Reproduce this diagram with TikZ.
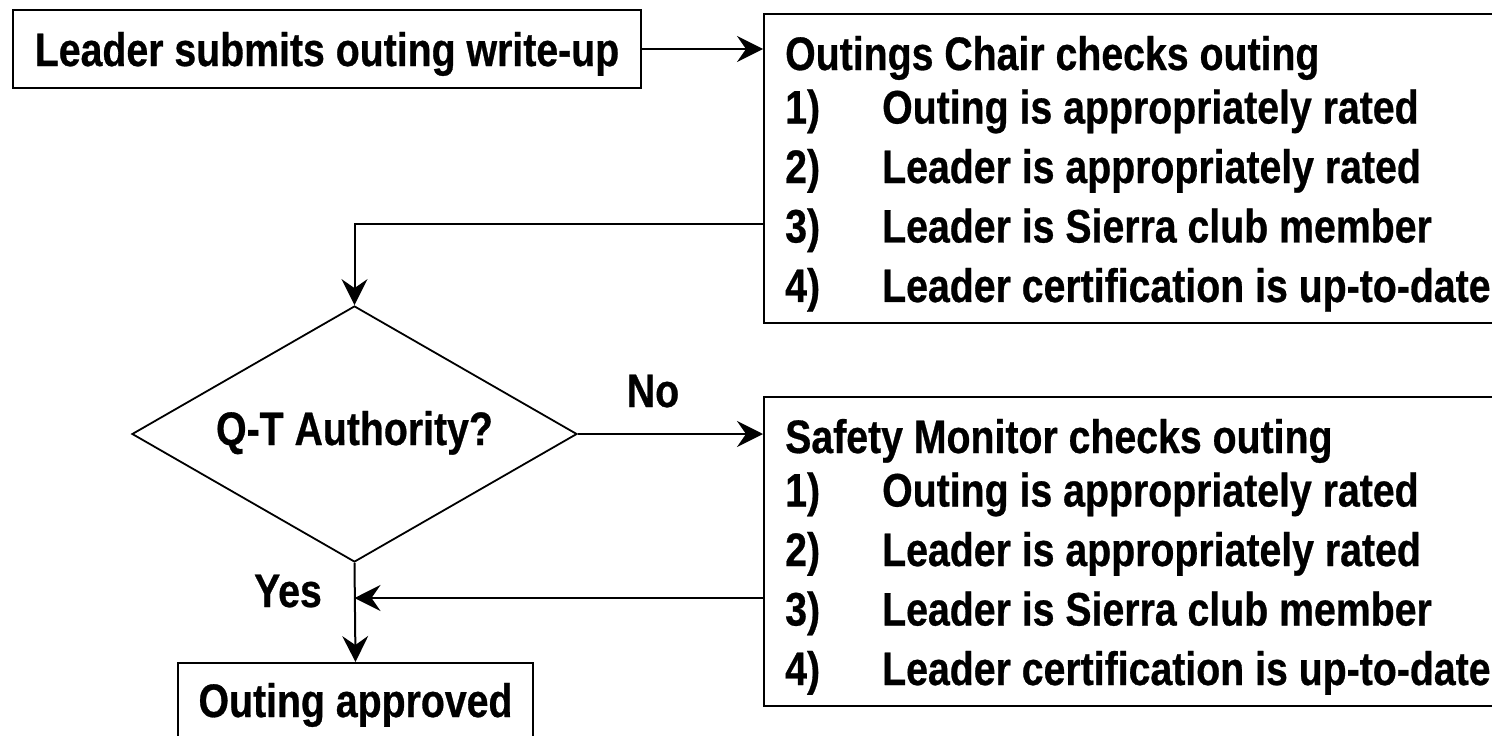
\documentclass[tikz,border=0pt]{standalone}
\usepackage{fontspec}
\setmainfont[FakeStretch=0.835,FakeBold=0.6]{Liberation Sans}
\usetikzlibrary{shapes.geometric,arrows.meta}
\begin{document}
\begin{tikzpicture}[x=1pt,y=-1pt,
  every node/.style={font=\fontsize{47}{59.5}\selectfont\bfseries},
  box/.style={draw,line width=2pt,inner sep=0pt},
  arr/.style={line width=2pt,-{Stealth[length=26pt,width=26pt,inset=9pt]}},
  lbl/.style={text height=34pt,text depth=0pt,inner sep=0pt}]
\clip (0,0) rectangle (1492,736);
% boxes
\node[box,lbl,minimum width=628pt,minimum height=78pt] (leader) at (327,49) {Leader submits outing write-up};
\node[box,anchor=north west,minimum width=800pt,minimum height=309pt] (chair) at (763,13) {};
\node[anchor=base west,inner sep=0pt] (chairtext) at (785,70) {\begin{tabular}[t]{@{}l@{}}
Outings Chair checks outing\\[-6pt]
\makebox[97pt][l]{1)}Outing is appropriately rated\\
\makebox[97pt][l]{2)}Leader is appropriately rated\\
\makebox[97pt][l]{3)}Leader is Sierra club member\\
\makebox[97pt][l]{4)}Leader certification is up-to-date
\end{tabular}};
\node[box,anchor=north west,minimum width=800pt,minimum height=309pt] (safety) at (763,396) {};
\node[anchor=base west,inner sep=0pt] (safetytext) at (785,453) {\begin{tabular}[t]{@{}l@{}}
Safety Monitor checks outing\\[-6pt]
\makebox[97pt][l]{1)}Outing is appropriately rated\\
\makebox[97pt][l]{2)}Leader is appropriately rated\\
\makebox[97pt][l]{3)}Leader is Sierra club member\\
\makebox[97pt][l]{4)}Leader certification is up-to-date
\end{tabular}};
\node[draw,diamond,line width=1.8pt,minimum width=445pt,minimum height=256pt,aspect=1.74,inner sep=0pt,text height=34pt,text depth=12pt] (dec) at (354.5,434) {Q-T Authority?};
\node[box,anchor=north,minimum width=355pt,minimum height=90pt,text height=34pt,text depth=16pt] (ok) at (355.5,662) {Outing approved};
% labels
\node[lbl] (no) at (653,390) {No};
\node[lbl] (yes) at (288,590) {Yes};
% connectors
\draw[arr] (leader.east) -- (leader.east -| chair.west);
\draw[arr] (chair.south west) ++(0,-100) -| (dec.north);
\draw[arr] (dec.east) -- (dec.east -| safety.west);
\path (safety.south west) ++(0,-109) coordinate (s1);
\draw[arr] (s1) -- (s1 -| dec.south);
\draw[arr] (dec.south) -- (ok.north);
\end{tikzpicture}
\end{document}
